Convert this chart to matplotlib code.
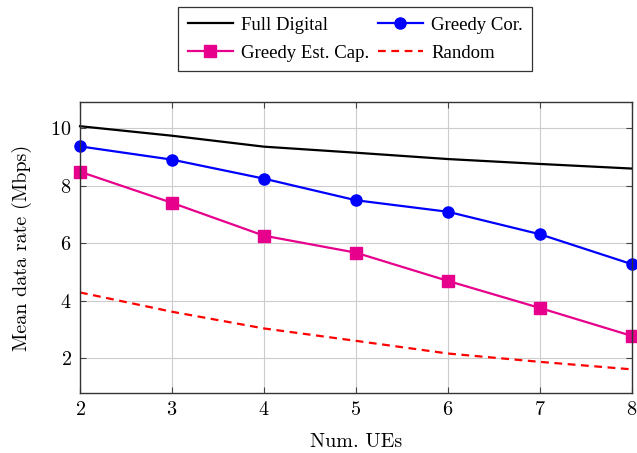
import matplotlib
matplotlib.use("Agg")
import matplotlib.pyplot as plt

num_ues = [2, 3, 4, 5, 6, 7, 8]
full_digital = [10.06, 9.73, 9.35, 9.14, 8.92, 8.75, 8.59]
greedy_cor = [9.36, 8.90, 8.24, 7.49, 7.09, 6.31, 5.27]
greedy_est_cap = [8.48, 7.40, 6.26, 5.67, 4.69, 3.75, 2.78]
random_sel = [4.29, 3.62, 3.04, 2.61, 2.17, 1.88, 1.62]
yticks = [2, 4, 6, 8, 10]

plt.rcParams['axes.formatter.use_mathtext'] = True
fig = plt.figure(figsize=(6.37, 4.53), dpi=100)
ax = fig.add_axes([0.1256, 0.1325, 0.8664, 0.6423])

l_fd, = ax.plot(num_ues, full_digital, color='black', lw=1.6, label='Full Digital')
l_gc, = ax.plot(num_ues, greedy_cor, color='#0000ff', lw=1.6, marker='o', ms=8, label='Greedy Cor.')
l_ge, = ax.plot(num_ues, greedy_est_cap, color='#e6008c', lw=1.6, marker='s', ms=8, label='Greedy Est. Cap.')
l_rd, = ax.plot(num_ues, random_sel, color='#ff0000', lw=1.6, ls=(0, (3.5, 2.5)), label='Random')
for ln in ax.lines:
    ln.set_clip_on(False)

ax.set_xlim(2, 8)
ax.set_ylim(0.8, 10.9)
ax.set_xticks(num_ues)
ax.set_yticks(yticks)
ax.grid(True, color='#cccccc', lw=0.8)
ax.set_axisbelow(True)
ax.tick_params(direction='in', top=True, right=True, length=4, color='#444444', pad=6)
for lab in ax.get_xticklabels() + ax.get_yticklabels():
    lab.set_family('cmr10')
    lab.set_fontsize(14.5)
for s in ax.spines.values():
    s.set_color('#333333')
    s.set_linewidth(1.0)

ax.set_xlabel('Num. UEs', family='cmr10', fontsize=14.5, labelpad=10)
ax.set_ylabel('Mean data rate (Mbps)', family='cmr10', fontsize=14.5, labelpad=13)

leg = fig.legend(handles=[l_fd, l_ge, l_gc, l_rd], loc='upper center', bbox_to_anchor=(0.558, 0.9845), ncol=2,
                 prop={'family': 'Liberation Serif', 'size': 13.5}, frameon=True, fancybox=False,
                 edgecolor='black', handlelength=2.4, columnspacing=0.45, handletextpad=0.45,
                 borderpad=0.5, labelspacing=0.6, borderaxespad=0.0)
leg.get_frame().set_linewidth(0.9)

fig.savefig('out.png', dpi=100)
